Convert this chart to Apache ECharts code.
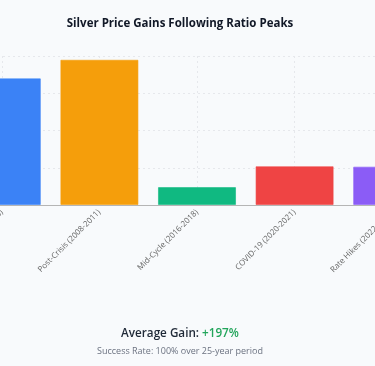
<!DOCTYPE html>
<html><head><meta charset="utf-8">
<script src="https://cdn.jsdelivr.net/npm/echarts@6/dist/echarts.min.js"></script>
<style>html,body{margin:0;padding:0;background:#f8fafc;overflow:hidden;width:375px;height:366px;position:relative;}#c{position:absolute;left:-100px;top:0;width:600px;height:366px;}</style>
</head><body><div id="c"></div>
<script>
const categories = ["Early 2000s (2003-2008)", "Post-Crisis (2008-2011)", "Mid-Cycle (2016-2018)", "COVID-19 (2020-2021)", "Rate Hikes (2022-2024)"];
const gains = [340, 390, 48, 104, 103];
const barColors = ["#3b82f6", "#f59e0b", "#10b981", "#ef4444", "#8b5cf6"];
const yTicks = [0, 100, 200, 300, 400];
const titleText = "Silver Price Gains Following Ratio Peaks";
const avgLabel = "Average Gain: ";
const avgValue = "+197%";
const successText = "Success Rate: 100% over 25-year period";

const OFF = 100; // container is shifted left by this many pixels
const chart = echarts.init(document.getElementById('c'), null, {renderer: 'canvas'});
const font = '"Open Sans", "Noto Sans", sans-serif';
chart.setOption({
  backgroundColor: '#f8fafc',
  animation: false,
  textStyle: {fontFamily: font},
  grid: {left: OFF - 47, top: 56, width: 488, height: 149, containLabel: false},
  xAxis: {
    type: 'category', data: categories,
    axisLine: {lineStyle: {color: '#b5b5b5', width: 1}},
    axisTick: {alignWithLabel: true, length: 4, lineStyle: {color: '#b5b5b5'}},
    axisLabel: {rotate: 45, fontSize: 8, color: '#666', margin: 6, interval: 0, fontFamily: font},
    splitLine: {show: true, alignWithLabel: true, lineStyle: {color: '#e6e8ec', type: [2, 3]}}
  },
  yAxis: {
    type: 'value', min: yTicks[0], max: yTicks[yTicks.length - 1], interval: yTicks[1] - yTicks[0],
    axisLabel: {show: false}, axisLine: {show: false}, axisTick: {show: false},
    splitLine: {lineStyle: {color: '#e6e8ec', type: [2, 3]}}
  },
  series: [{
    type: 'bar', barCategoryGap: '20%',
    data: gains.map((v, i) => ({value: v, itemStyle: {color: barColors[i], borderColor: barColors[i] + '99', borderWidth: 1}}))
  }],
  graphic: [
    {type: 'text', x: OFF + 180, y: 24, style: {text: titleText, align: 'center', verticalAlign: 'middle', fontSize: 11.5, fontWeight: 'bold', fill: '#111827', fontFamily: font}},
    {type: 'text', x: OFF + 180, y: 334, style: {text: '{a|' + avgLabel + '}{b|' + avgValue + '}', align: 'center', verticalAlign: 'middle',
      rich: {a: {fontSize: 11.7, fontWeight: 600, fill: '#1f2937', fontFamily: font}, b: {fontSize: 11.7, fontWeight: 600, fill: '#22a55b', fontFamily: font}}}},
    {type: 'text', x: OFF + 180, y: 351, style: {text: successText, align: 'center', verticalAlign: 'middle', fontSize: 9, fill: '#6b7280', fontFamily: font}}
  ]
});
</script></body></html>
